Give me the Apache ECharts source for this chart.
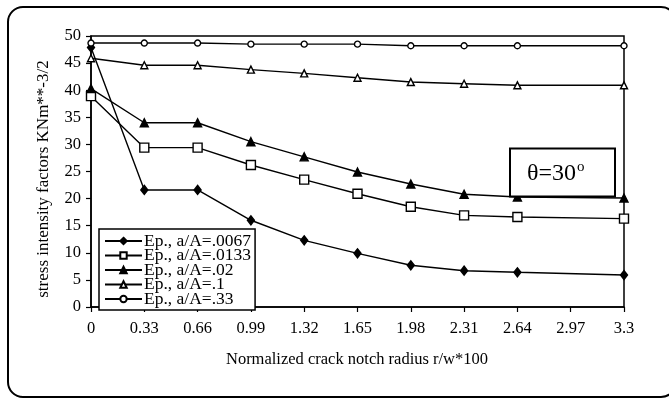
<!DOCTYPE html>
<html>
<head>
<meta charset="utf-8">
<script src="https://cdn.jsdelivr.net/npm/echarts@6/dist/echarts.min.js"></script>
<style>html,body{margin:0;padding:0;background:#fff;}#c{width:669px;height:399px;}</style>
</head>
<body>
<div id="c"></div>
<script>
// ---- data ----
const xValues = [0, 0.33, 0.66, 0.99, 1.32, 1.65, 1.98, 2.31, 2.64, 3.3];
const xTickLabels = ['0','0.33','0.66','0.99','1.32','1.65','1.98','2.31','2.64','2.97','3.3'];
const seriesNames = ['Ep., a/A=.0067','Ep., a/A=.0133','Ep., a/A=.02','Ep., a/A=.1','Ep., a/A=.33'];
const s0067 = [47.9, 21.6, 21.6, 16.0, 12.3, 9.9, 7.7, 6.7, 6.4, 5.9];
const s0133 = [38.9, 29.4, 29.4, 26.2, 23.5, 20.9, 18.5, 16.9, 16.6, 16.3];
const s02   = [40.3, 34.0, 34.0, 30.5, 27.7, 24.9, 22.7, 20.8, 20.3, 20.1];
const s1    = [45.9, 44.6, 44.6, 43.8, 43.1, 42.3, 41.5, 41.2, 40.9, 40.9];
const s33   = [48.7, 48.7, 48.7, 48.5, 48.5, 48.5, 48.2, 48.2, 48.2, 48.2];
const xTitle = 'Normalized crack notch radius r/w*100';
const yTitle = 'stress intensity factors KNm**-3/2';
const noteText = 'θ=30';
const noteSup = 'o';

const FONT = '"Liberation Serif", "Times New Roman", serif';
const allValues = [s0067, s0133, s02, s1, s33];
const symbols = [
  {symbol: 'diamond', size: [7, 9], fill: '#000'},
  {symbol: 'rect', size: 9, fill: '#fff'},
  {symbol: 'triangle', size: 8, fill: '#000'},
  {symbol: 'triangle', size: 7, fill: '#fff'},
  {symbol: 'circle', size: 6, fill: '#fff'}
];

const series = allValues.map((vals, i) => ({
  name: seriesNames[i],
  type: 'line',
  data: xValues.map((x, j) => [x, vals[j]]),
  symbol: symbols[i].symbol,
  symbolSize: symbols[i].size,
  showAllSymbol: true,
  lineStyle: {color: '#000', width: 1.4},
  itemStyle: {color: symbols[i].fill, borderColor: '#000', borderWidth: 1.4},
  emphasis: {disabled: true},
  animation: false,
  z: 3
}));

const chart = echarts.init(document.getElementById('c'), null, {renderer: 'canvas'});
chart.setOption({
  backgroundColor: '#fff',
  animation: false,
  grid: {left: 91, right: 45, top: 36, bottom: 92, show: true, borderColor: '#000', borderWidth: 1.5, backgroundColor: 'transparent'},
  xAxis: {
    type: 'value', min: 0, max: 3.3, interval: 0.33,
    axisLine: {show: true, onZero: false, lineStyle: {color: '#000', width: 1.5}},
    axisTick: {show: true, inside: false, length: 5, lineStyle: {color: '#000', width: 1.2}},
    axisLabel: {color: '#000', fontFamily: FONT, fontSize: 16.5, margin: 13,
      formatter: v => xTickLabels[Math.round(v / 0.33)]},
    splitLine: {show: false}
  },
  yAxis: {
    type: 'value', min: 0, max: 50, interval: 5,
    axisLine: {show: true, lineStyle: {color: '#000', width: 1.5}},
    axisTick: {show: true, inside: false, length: 5, lineStyle: {color: '#000', width: 1.2}},
    axisLabel: {color: '#000', fontFamily: FONT, fontSize: 16.5, margin: 10},
    splitLine: {show: false}
  },
  legend: {
    orient: 'vertical', left: 99, top: 229,
    backgroundColor: '#fff', borderColor: '#000', borderWidth: 1.5,
    padding: [3, 4, 2, 5], itemGap: -3.5, itemWidth: 37, itemHeight: 8,
    textStyle: {color: '#000', fontFamily: FONT, fontSize: 17.5, padding: [0, 0, 0, -3]},
    data: seriesNames,
    selectedMode: false
  },
  series: series,
  graphic: [
    {type: 'rect', shape: {x: 8, y: 7, width: 668, height: 390, r: 15}, style: {fill: 'none', stroke: '#000', lineWidth: 2}, z: 100, silent: true},
    {type: 'text', x: 44, y: 179, rotation: Math.PI / 2, style: {text: yTitle, fill: '#000', font: '17px ' + FONT, align: 'center', verticalAlign: 'middle'}, z: 100},
    {type: 'text', x: 357, y: 360, style: {text: xTitle, fill: '#000', font: '16.5px ' + FONT, align: 'center', verticalAlign: 'middle'}, z: 100},
    {type: 'rect', shape: {x: 510, y: 148.5, width: 105, height: 48}, style: {fill: '#fff', stroke: '#000', lineWidth: 2}, z: 100},
    {type: 'text', x: 527, y: 173.5, style: {text: noteText, fill: '#000', font: '24px ' + FONT, align: 'left', verticalAlign: 'middle'}, z: 101},
    {type: 'text', x: 577, y: 167, style: {text: noteSup, fill: '#000', font: '15px ' + FONT, align: 'left', verticalAlign: 'middle'}, z: 101}
  ]
});
</script>
</body>
</html>
